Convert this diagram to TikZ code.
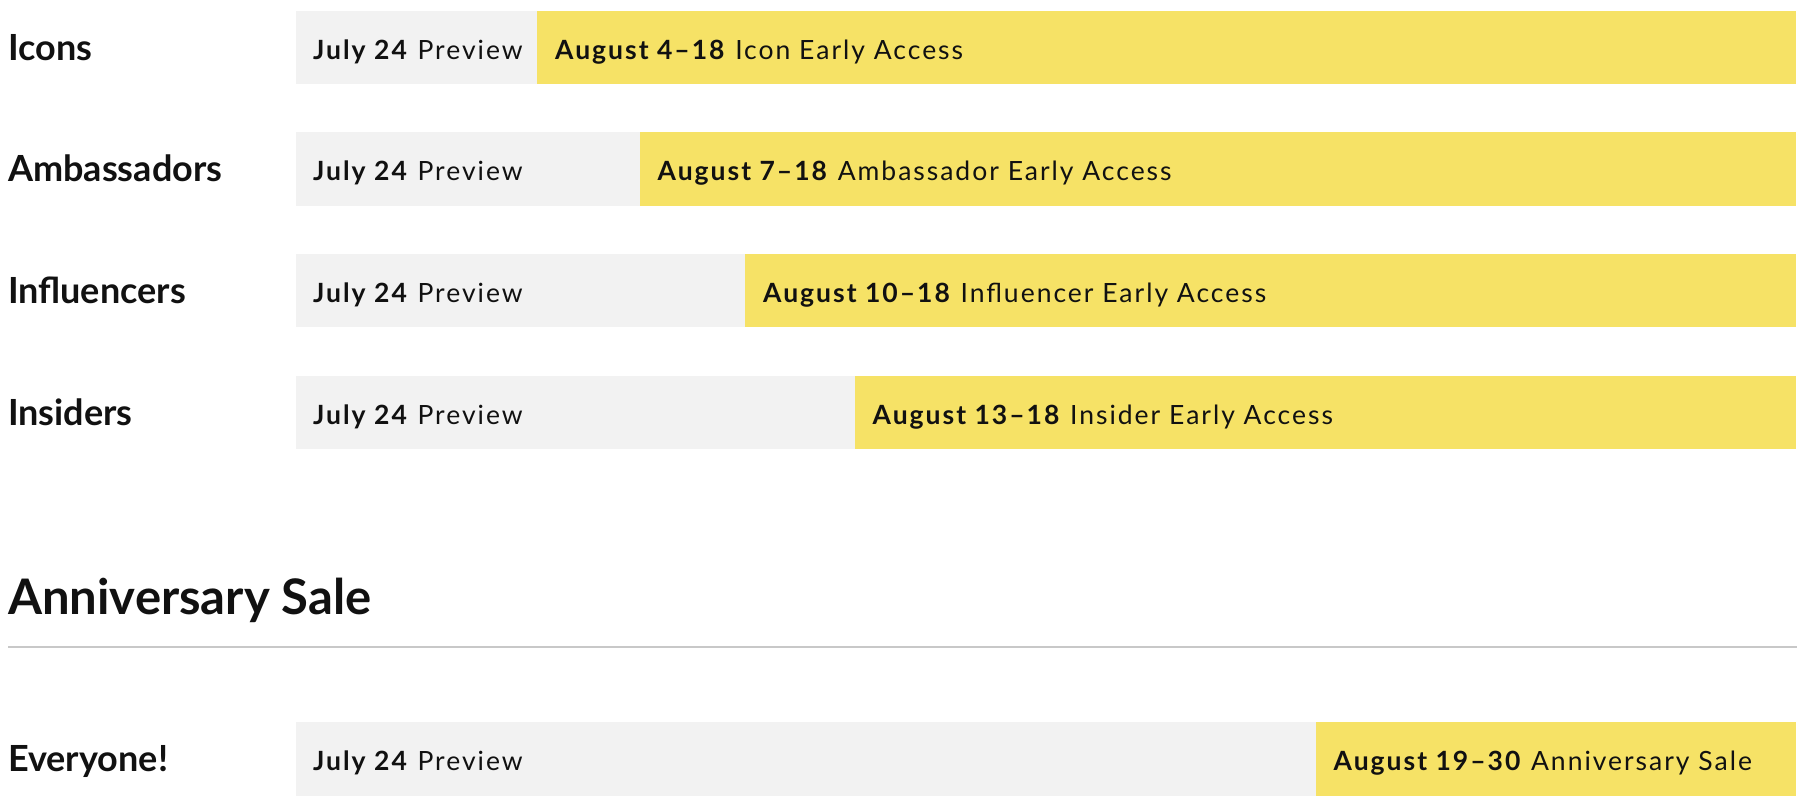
\documentclass[tikz,border=0pt]{standalone}
\usepackage{fontspec}
\setmainfont{Lato}
\newfontfamily\barfont[LetterSpace=7.5]{Lato}
\definecolor{barg}{HTML}{F2F2F2}
\definecolor{bary}{HTML}{F6E266}
\definecolor{ink}{HTML}{111111}
\definecolor{rulec}{HTML}{C8C8C8}
\tikzset{
  graybar/.style={fill=barg},
  yelbar/.style={fill=bary},
  bartext/.style={anchor=base west, inner sep=0pt, text=ink, font=\barfont\fontsize{26.5}{30}\selectfont},
  rowlabel/.style={anchor=base west, inner sep=0pt, text=ink, font=\fontsize{36}{44}\selectfont\bfseries},
  heading/.style={anchor=base west, inner sep=0pt, text=ink, font=\fontsize{49}{58}\selectfont\bfseries},
  rulestyle/.style={draw=rulec, line width=2pt},
}
\begin{document}
\begin{tikzpicture}[x=1pt,y=-1pt]
\useasboundingbox (0,0) rectangle (1800,797);
\fill[white] (0,0) rectangle (1800,797);
\foreach \t/\h/\ys/\lab/\nm/\dt/\what in {
  10.7/73.5/537/Icons/icons/{August 4–18}/{Icon Early Access},
  132.3/73.5/639.5/Ambassadors/amb/{August 7–18}/{Ambassador Early Access},
  253.9/73.5/745/Influencers/infl/{August 10–18}/{Influencer Early Access},
  375.5/73.5/854.5/Insiders/ins/{August 13–18}/{Insider Early Access},
  722/74/1315.5/Everyone!/all/{August 19–30}/{Anniversary Sale}} {
  \fill[graybar] (296,\t) rectangle (\ys,\t+\h);
  \fill[yelbar] (\ys,\t) rectangle (1796,\t+\h);
  \node[rowlabel] (lab-\nm) at (8,\t+49.5) {\lab};
  \node[bartext] (pre-\nm) at (313,\t+48.5) {\textbf{July 24} Preview};
  \node[bartext] (acc-\nm) at (\ys+18,\t+48.5) {\textbf{\dt} \what};
}
\node[heading] (head) at (8,614) {Anniversary Sale};
\coordinate (ruleL) at (8,647);
\coordinate (ruleR) at (1797,647);
\draw[rulestyle] (ruleL) -- (ruleR);
\end{tikzpicture}
\end{document}
